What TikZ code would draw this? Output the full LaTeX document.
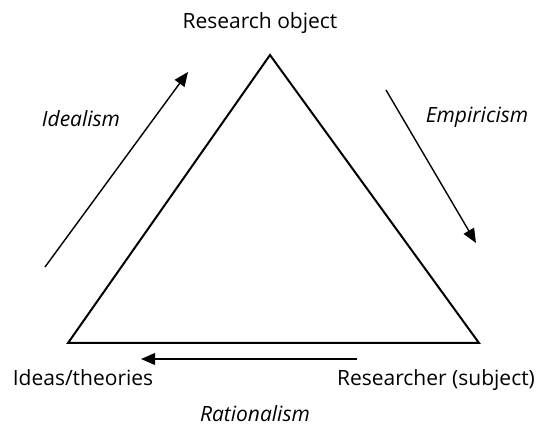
\documentclass[tikz,border=0pt]{standalone}
\usepackage{fontspec}
\setmainfont{Open Sans}
\usepackage{tikz}
\usetikzlibrary{calc,arrows.meta,positioning}
\definecolor{inkx}{HTML}{000000}
\tikzset{
  ar/.style={-{Triangle[length=5mm,width=4.2mm]},line width=1.4pt,inkx},
  tri/.style={line width=2pt,inkx,line join=miter},
  lbl/.style={font=\fontsize{21}{24}\selectfont,inner sep=0pt,anchor=base},
  ism/.style={lbl,font=\fontsize{21}{24}\selectfont\itshape}
}
\begin{document}
\begin{tikzpicture}[x=1pt,y=1pt]
\useasboundingbox (0,0) rectangle (539,429);
% triangle
\coordinate (O) at (270,374);
\coordinate (T) at (68,86);
\coordinate (S) at (479,86);
\draw[tri] (O)--(T)--(S)--cycle;
% corner labels
\node[lbl] (obj) at (260,400) {Research object};
\node[lbl] (ide) at (83,43) {Ideas/theories};
\node[lbl] (res) at (436,43) {Researcher (subject)};
% arrows
\coordinate (i1) at (45,162); \coordinate (i2) at (188,357);
\coordinate (e1) at (386,339); \coordinate (e2) at (476,186);
\coordinate (r1) at (357,70); \coordinate (r2) at (141,70);
\draw[ar] (i1)--(i2);
\draw[ar] (e1)--(e2);
\draw[ar] (r1)--(r2);
\node[ism] (idl) at (81,302) {Idealism};
\node[ism] (emp) at (477,306) {Empiricism};
\node[ism] (rat) at (255,7) {Rationalism};
\end{tikzpicture}
\end{document}
